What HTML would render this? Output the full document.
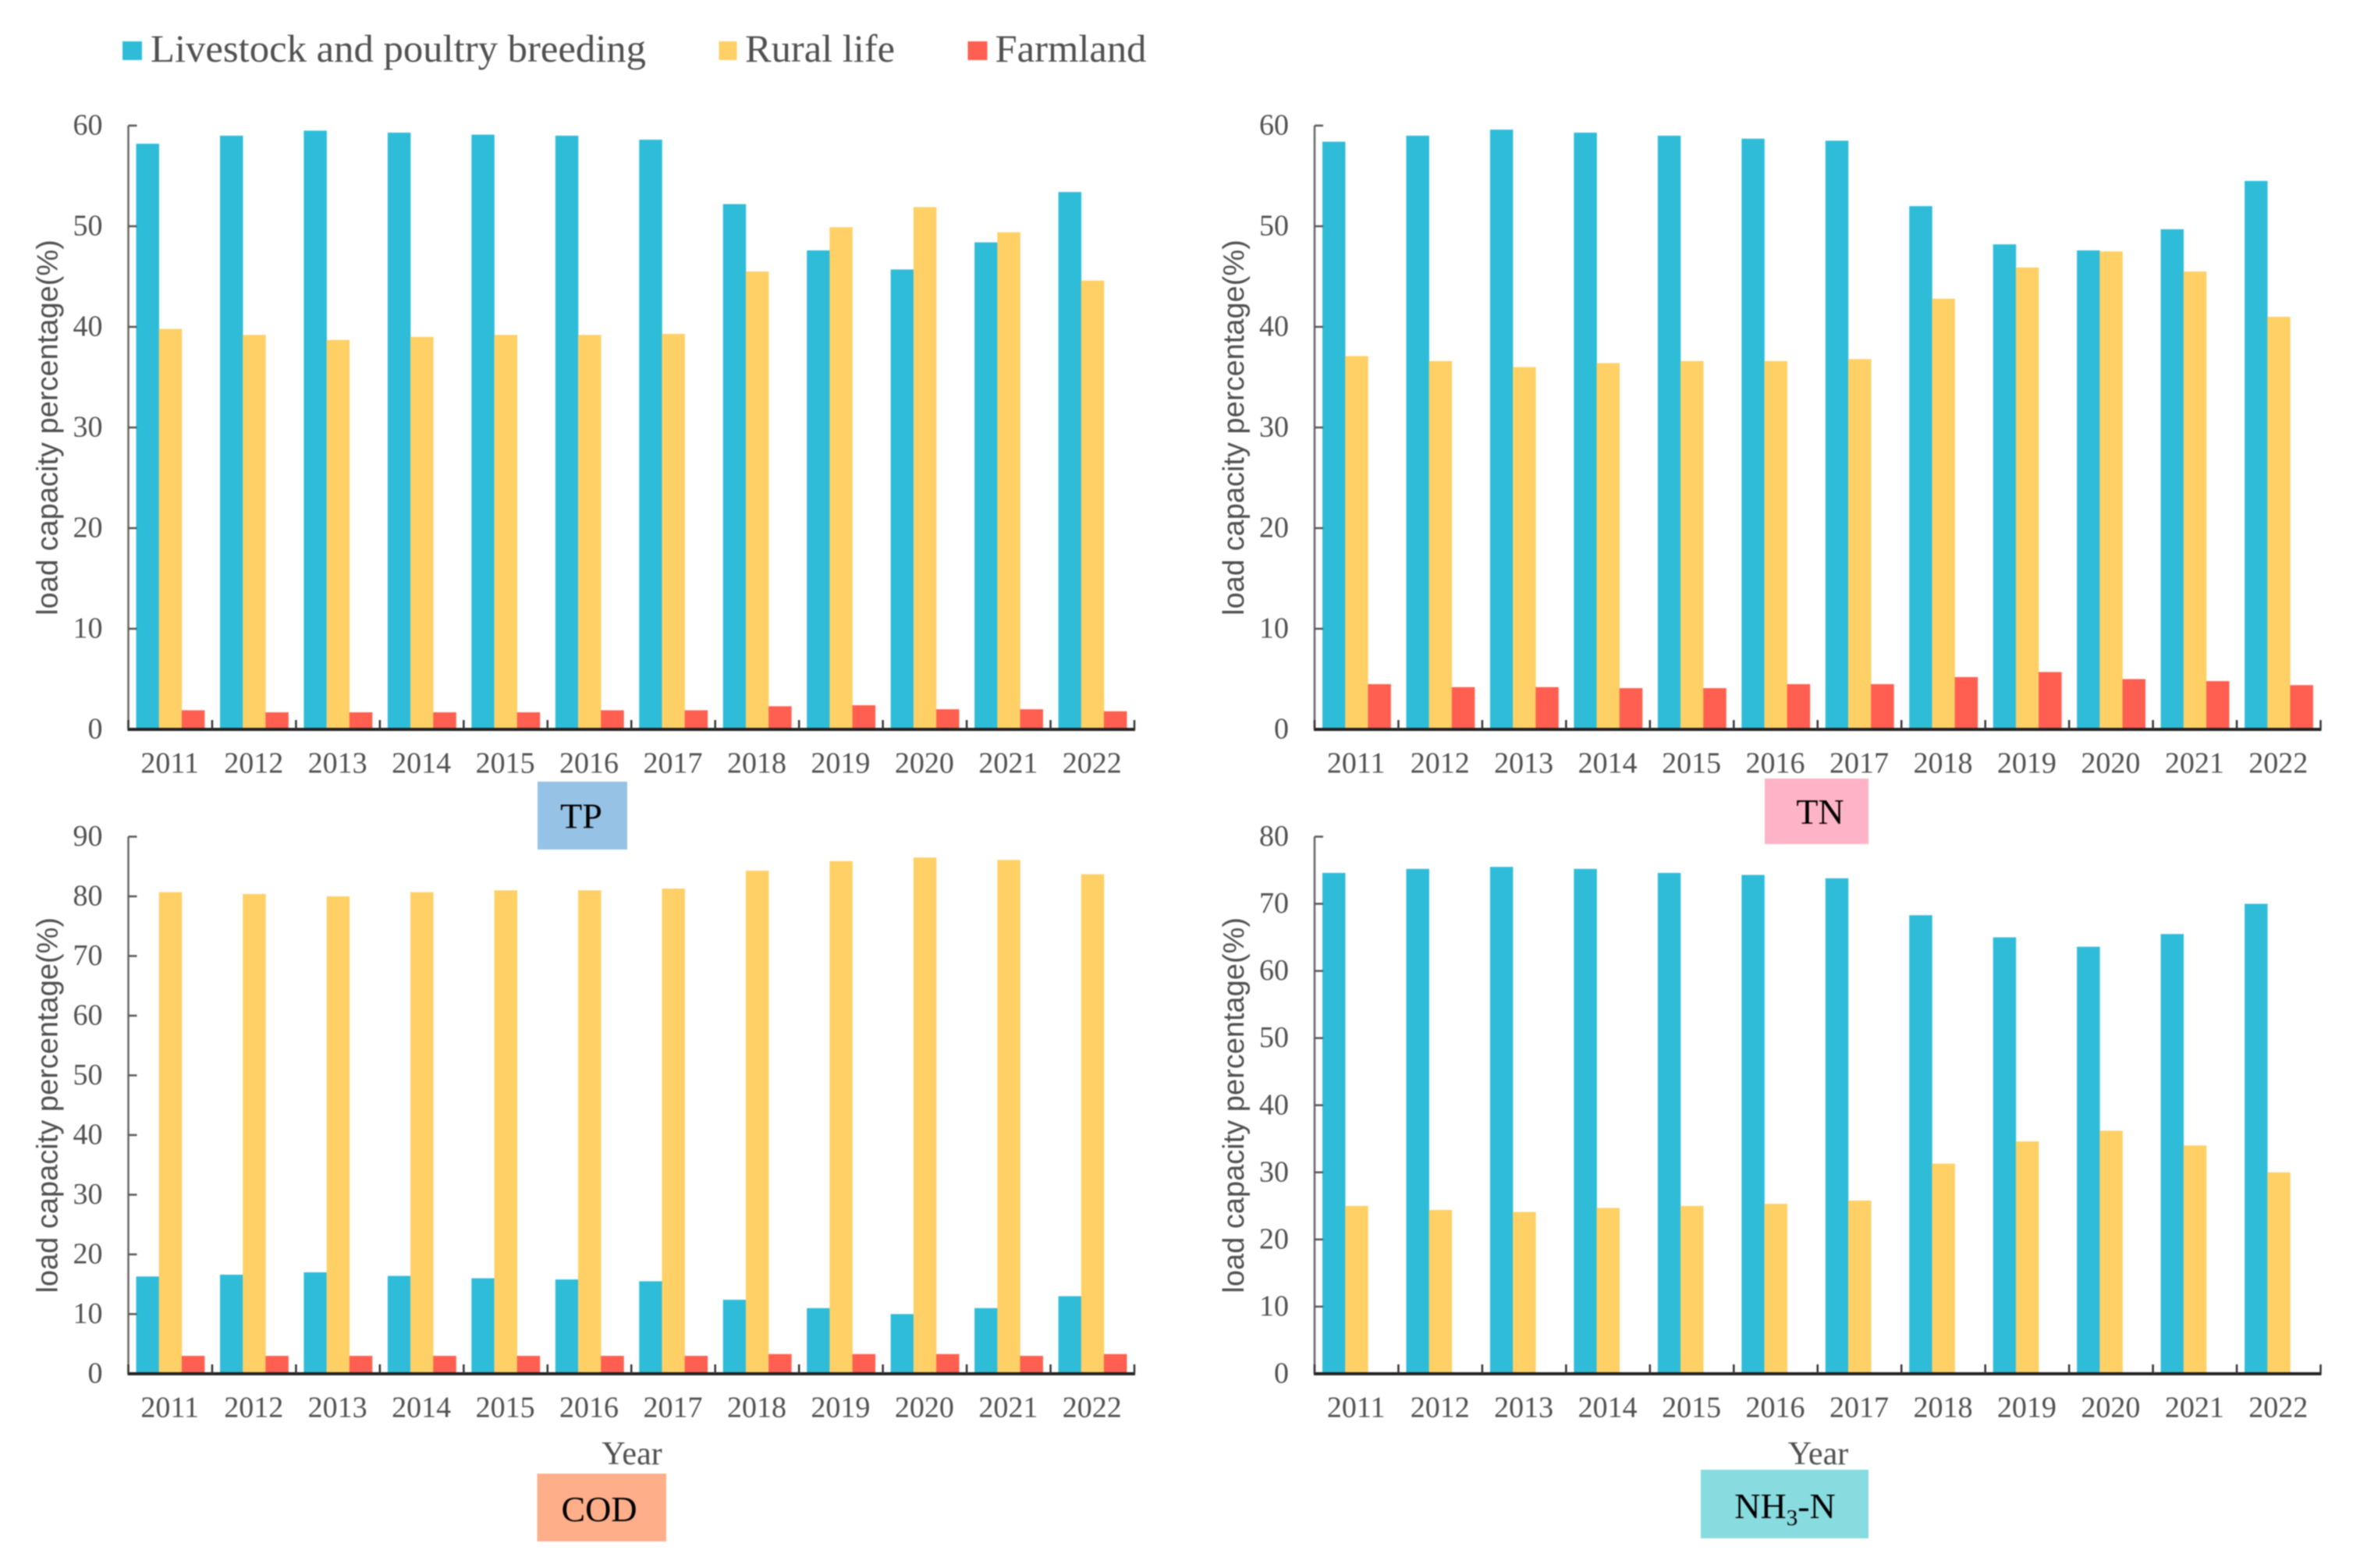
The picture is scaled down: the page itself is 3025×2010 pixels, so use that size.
<!DOCTYPE html>
<html lang="en">
<head>
<meta charset="utf-8">
<title>Load capacity percentage by source</title>
<style>
html,body{margin:0;padding:0;background:#fff;width:3025px;height:2010px;overflow:hidden}
svg{display:block;filter:blur(0.7px)}
text{font-family:"Liberation Serif",serif;fill:#505050}
.sans{font-family:"Liberation Sans",sans-serif}
.tag{fill:#000;font-size:46px;text-anchor:middle}
</style>
</head>
<body>
<svg id="chart" xmlns="http://www.w3.org/2000/svg" width="3025" height="2010" viewBox="0 0 3025 2010">
  <rect x="0" y="0" width="3025" height="2010" fill="#fff"/>
  <g>
    <rect x="157" y="53" width="25" height="24" fill="#2FBCD8"/>
    <text x="193" y="79" font-size="50" textLength="635" lengthAdjust="spacingAndGlyphs">Livestock and poultry breeding</text>
    <rect x="921.5" y="53" width="23" height="24" fill="#FFD066"/>
    <text x="955" y="79" font-size="50" textLength="192" lengthAdjust="spacingAndGlyphs">Rural life</text>
    <rect x="1240.5" y="53" width="25" height="24" fill="#FF5F50"/>
    <text x="1275.5" y="79" font-size="50" textLength="194" lengthAdjust="spacingAndGlyphs">Farmland</text>
  </g>
  <g id="panels"></g>
  <g>
    <rect x="689" y="1002" width="115" height="87" fill="#95C2E5"/>
    <text class="tag" x="745" y="1061.5">TP</text>
    <rect x="2262" y="998" width="133" height="84" fill="#FFB3C6"/>
    <text class="tag" x="2333" y="1056">TN</text>
    <rect x="688.5" y="1889" width="165.5" height="87" fill="#FFAE8A"/>
    <text class="tag" x="768" y="1950">COD</text>
    <rect x="2180" y="1884" width="215" height="88" fill="#88DBDF"/>
    <text class="tag" x="2288" y="1946">NH<tspan font-size="29" dy="9">3</tspan><tspan dy="-9">-N</tspan></text>
  </g>
</svg>
<script>
const years = [2011,2012,2013,2014,2015,2016,2017,2018,2019,2020,2021,2022];

const tpLivestock = [58.2,59.0,59.5,59.3,59.1,59.0,58.6,52.2,47.6,45.7,48.4,53.4];
const tpRural = [39.8,39.2,38.7,39.0,39.2,39.2,39.3,45.5,49.9,51.9,49.4,44.6];
const tpFarmland = [1.9,1.7,1.7,1.7,1.7,1.9,1.9,2.3,2.4,2.0,2.0,1.8];
const tpTicks = [0,10,20,30,40,50,60];

const tnLivestock = [58.4,59.0,59.6,59.3,59.0,58.7,58.5,52.0,48.2,47.6,49.7,54.5];
const tnRural = [37.1,36.6,36.0,36.4,36.6,36.6,36.8,42.8,45.9,47.5,45.5,41.0];
const tnFarmland = [4.5,4.2,4.2,4.1,4.1,4.5,4.5,5.2,5.7,5.0,4.8,4.4];
const tnTicks = [0,10,20,30,40,50,60];

const codLivestock = [16.3,16.6,17.0,16.4,16.0,15.8,15.5,12.4,11.0,10.0,11.0,13.0];
const codRural = [80.7,80.4,80.0,80.7,81.0,81.0,81.3,84.3,85.9,86.5,86.1,83.7];
const codFarmland = [3.0,3.0,3.0,3.0,3.0,3.0,3.0,3.3,3.3,3.3,3.0,3.3];
const codTicks = [0,10,20,30,40,50,60,70,80,90];

const nh3Livestock = [74.6,75.2,75.5,75.2,74.6,74.3,73.8,68.3,65.0,63.6,65.5,70.0];
const nh3Rural = [25.0,24.4,24.1,24.7,25.0,25.3,25.8,31.3,34.6,36.2,34.0,30.0];
const nh3Farmland = [0,0,0,0,0,0,0,0,0,0,0,0];
const nh3Ticks = [0,10,20,30,40,50,60,70,80];

const seriesNames = ['livestock','rural','farmland'];
const seriesColors = ['#2FBCD8','#FFD066','#FF5F50'];
const NS = 'http://www.w3.org/2000/svg';
const BAND = 107.46, BARW = 29.2, BAR_OFFSET = 10;

function make(tag, attrs, parent, txt){
  const el = document.createElementNS(NS, tag);
  for (const k in attrs) el.setAttribute(k, attrs[k]);
  if (txt !== undefined) el.textContent = txt;
  parent.appendChild(el);
  return el;
}

function drawPanel(id, x0, top, base, series, ticks, showYear){
  const root = document.getElementById('panels');
  const g = make('g', {}, root);
  
  
  const maxV = ticks[ticks.length - 1];
  const yScale = v => base - (v / maxV) * (base - top);
  const xBand = i => x0 + i * BAND;
  const xEnd = xBand(years.length);

  series.forEach((vals, s) => {
    vals.forEach((v, i) => {
      if (v <= 0) return;
      const bar = make('rect', {
        x: xBand(i) + BAR_OFFSET + s * BARW,
        y: yScale(v),
        width: BARW + 0.3,
        height: base - yScale(v),
        fill: seriesColors[s]
      }, g);
      
      
    });
  });

  const yAxis = make('line', {x1:x0, x2:x0, y1:top, y2:base, stroke:'#666', 'stroke-width':2.5}, g);
  
  

  ticks.forEach(t => {
    const y = yScale(t);
    if (t !== 0) {
      const tm = make('line', {x1:x0, x2:x0 + 11, y1:y, y2:y, stroke:'#555', 'stroke-width':2.5}, g);
      
      
    }
    const lab = make('text', {x:x0 - 33, y:y + 11.5, 'font-size':38, 'text-anchor':'end'}, g, String(t));
    
    
  });

  const xAxis = make('line', {x1:x0 - 1, x2:xEnd + 1, y1:base, y2:base, stroke:'#222', 'stroke-width':4}, g);
  
  

  for (let i = 0; i <= years.length; i++) {
    const tm = make('line', {x1:xBand(i), x2:xBand(i), y1:base - 12, y2:base, stroke:'#333', 'stroke-width':2.5}, g);
    
    
  }

  years.forEach((yr, i) => {
    const lab = make('text', {x:xBand(i) + BAND / 2 - 0.5, y:base + 55.5, 'font-size':38, 'text-anchor':'middle'}, g, String(yr));
    
    
  });

  const cy = (top + base) / 2;
  const tx = x0 - 91;
  const title = make('text', {x:tx, y:cy, 'font-size':38, 'text-anchor':'middle', transform:'rotate(-90 ' + tx + ' ' + cy + ')', class:'sans'}, g, 'load capacity percentage(%)');
  
  

  if (showYear) {
    const xt = make('text', {x:x0 + 645.5, y:base + 116, 'font-size':42, 'text-anchor':'middle'}, g, 'Year');
    
    
  }
}

drawPanel('tp', 164.5, 161, 935, [tpLivestock,tpRural,tpFarmland], tpTicks, false);
drawPanel('tn', 1685, 161, 935, [tnLivestock,tnRural,tnFarmland], tnTicks, false);
drawPanel('cod', 164.5, 1072.5, 1761, [codLivestock,codRural,codFarmland], codTicks, true);
drawPanel('nh3n', 1685, 1072.5, 1761, [nh3Livestock,nh3Rural,nh3Farmland], nh3Ticks, true);
</script>
</body>
</html>
